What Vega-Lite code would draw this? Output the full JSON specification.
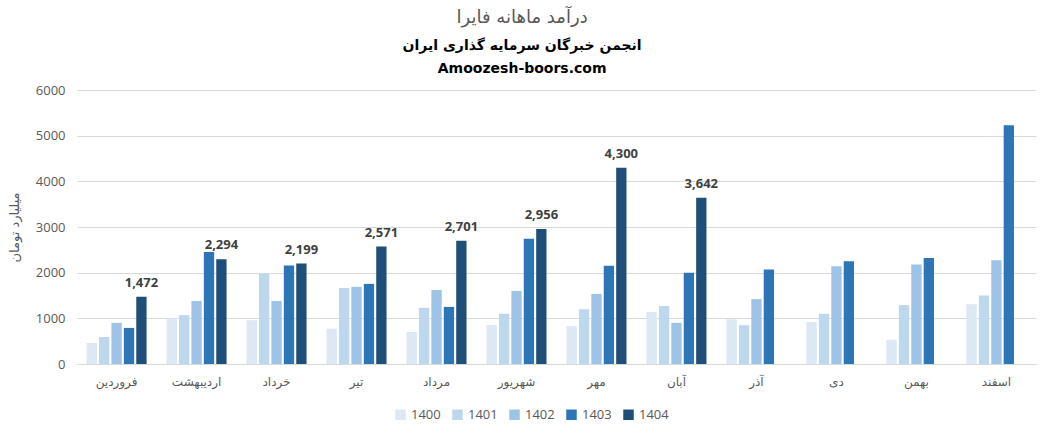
{
  "$schema": "https://vega.github.io/schema/vega-lite/v6.json",
  "width": 1040,
  "height": 440,
  "autosize": {"type": "fit", "contains": "padding"},
  "padding": {"left": 8, "right": 4, "top": 9, "bottom": 53},
  "background": "white",
  "config": {
    "font": "Open Sans, DejaVu Sans",
    "view": {"stroke": null}
  },
  "title": {
    "text": "درآمد ماهانه فایرا",
    "subtitle": ["انجمن خبرگان سرمایه گذاری ایران", "Amoozesh-boors.com"],
    "anchor": "middle",
    "frame": "bounds",
    "font": "DejaVu Sans",
    "fontSize": 18,
    "fontWeight": "normal",
    "color": "#595959",
    "subtitleFont": "DejaVu Sans",
    "subtitleFontSize": 14,
    "subtitleFontWeight": "bold",
    "subtitleColor": "#000000",
    "subtitleLineHeight": 23,
    "subtitlePadding": 12,
    "offset": 8
  },
  "data": {
    "values": [
      {"month": "فروردین", "year": "1400", "value": 460},
      {"month": "فروردین", "year": "1401", "value": 590},
      {"month": "فروردین", "year": "1402", "value": 900},
      {"month": "فروردین", "year": "1403", "value": 790},
      {"month": "فروردین", "year": "1404", "value": 1472},
      {"month": "اردیبهشت", "year": "1400", "value": 995},
      {"month": "اردیبهشت", "year": "1401", "value": 1070},
      {"month": "اردیبهشت", "year": "1402", "value": 1380},
      {"month": "اردیبهشت", "year": "1403", "value": 2450},
      {"month": "اردیبهشت", "year": "1404", "value": 2294},
      {"month": "خرداد", "year": "1400", "value": 960},
      {"month": "خرداد", "year": "1401", "value": 1980},
      {"month": "خرداد", "year": "1402", "value": 1380},
      {"month": "خرداد", "year": "1403", "value": 2155},
      {"month": "خرداد", "year": "1404", "value": 2199},
      {"month": "تیر", "year": "1400", "value": 770},
      {"month": "تیر", "year": "1401", "value": 1665},
      {"month": "تیر", "year": "1402", "value": 1690},
      {"month": "تیر", "year": "1403", "value": 1755},
      {"month": "تیر", "year": "1404", "value": 2571},
      {"month": "مرداد", "year": "1400", "value": 700},
      {"month": "مرداد", "year": "1401", "value": 1230},
      {"month": "مرداد", "year": "1402", "value": 1620},
      {"month": "مرداد", "year": "1403", "value": 1250},
      {"month": "مرداد", "year": "1404", "value": 2701},
      {"month": "شهریور", "year": "1400", "value": 855},
      {"month": "شهریور", "year": "1401", "value": 1100},
      {"month": "شهریور", "year": "1402", "value": 1600},
      {"month": "شهریور", "year": "1403", "value": 2740},
      {"month": "شهریور", "year": "1404", "value": 2956},
      {"month": "مهر", "year": "1400", "value": 830},
      {"month": "مهر", "year": "1401", "value": 1200},
      {"month": "مهر", "year": "1402", "value": 1535},
      {"month": "مهر", "year": "1403", "value": 2150},
      {"month": "مهر", "year": "1404", "value": 4300},
      {"month": "آبان", "year": "1400", "value": 1140},
      {"month": "آبان", "year": "1401", "value": 1270},
      {"month": "آبان", "year": "1402", "value": 900},
      {"month": "آبان", "year": "1403", "value": 2000},
      {"month": "آبان", "year": "1404", "value": 3642},
      {"month": "آذر", "year": "1400", "value": 980},
      {"month": "آذر", "year": "1401", "value": 850},
      {"month": "آذر", "year": "1402", "value": 1420},
      {"month": "آذر", "year": "1403", "value": 2070},
      {"month": "دی", "year": "1400", "value": 920},
      {"month": "دی", "year": "1401", "value": 1100},
      {"month": "دی", "year": "1402", "value": 2140},
      {"month": "دی", "year": "1403", "value": 2250},
      {"month": "بهمن", "year": "1400", "value": 530},
      {"month": "بهمن", "year": "1401", "value": 1290},
      {"month": "بهمن", "year": "1402", "value": 2180},
      {"month": "بهمن", "year": "1403", "value": 2320},
      {"month": "اسفند", "year": "1400", "value": 1310},
      {"month": "اسفند", "year": "1401", "value": 1500},
      {"month": "اسفند", "year": "1402", "value": 2270},
      {"month": "اسفند", "year": "1403", "value": 5230}
    ]
  },
  "encoding": {
    "x": {
      "field": "month",
      "type": "nominal",
      "sort": ["فروردین", "اردیبهشت", "خرداد", "تیر", "مرداد", "شهریور", "مهر", "آبان", "آذر", "دی", "بهمن", "اسفند"],
      "scale": {"paddingInner": 0.25, "paddingOuter": 0.12},
      "axis": {
        "title": null,
        "labelAngle": 0,
        "labelFont": "DejaVu Sans",
        "labelFontSize": 12,
        "labelColor": "#595959",
        "labelPadding": 12,
        "ticks": false,
        "domainColor": "#d9d9d9",
        "domainWidth": 1
      }
    },
    "xOffset": {
      "field": "year",
      "type": "nominal",
      "scale": {"paddingInner": 0.17}
    },
    "y": {
      "field": "value",
      "type": "quantitative",
      "scale": {"domain": [0, 6000]},
      "axis": {
        "title": "میلیارد تومان",
        "titleFont": "DejaVu Sans",
        "titleFontSize": 13,
        "titleFontWeight": "normal",
        "titleColor": "#595959",
        "titlePadding": 14,
        "values": [0, 1000, 2000, 3000, 4000, 5000, 6000],
        "format": "d",
        "labelFontSize": 13,
        "labelColor": "#595959",
        "labelPadding": 12,
        "ticks": false,
        "domain": false,
        "gridColor": "#d9d9d9",
        "gridWidth": 1
      }
    }
  },
  "layer": [
    {
      "mark": {"type": "bar"},
      "encoding": {
        "color": {
          "field": "year",
          "type": "nominal",
          "scale": {
            "domain": ["1400", "1401", "1402", "1403", "1404"],
            "range": ["#dde8f5", "#bdd7ee", "#9dc3e6", "#2e75b6", "#1f4e79"]
          },
          "legend": {
            "title": null,
            "orient": "none",
            "legendX": 317,
            "legendY": 318,
            "direction": "horizontal",
            "symbolType": "square",
            "symbolSize": 110,
            "symbolStrokeWidth": 0,
            "labelFontSize": 13,
            "labelColor": "#595959",
            "columnPadding": 10
          }
        }
      }
    },
    {
      "transform": [{"filter": "datum.year == '1404'"}],
      "mark": {
        "type": "text",
        "dy": -14,
        "fontSize": 13,
        "fontWeight": "bold",
        "color": "#404040"
      },
      "encoding": {
        "text": {"field": "value", "type": "quantitative", "format": ","}
      }
    }
  ]
}
